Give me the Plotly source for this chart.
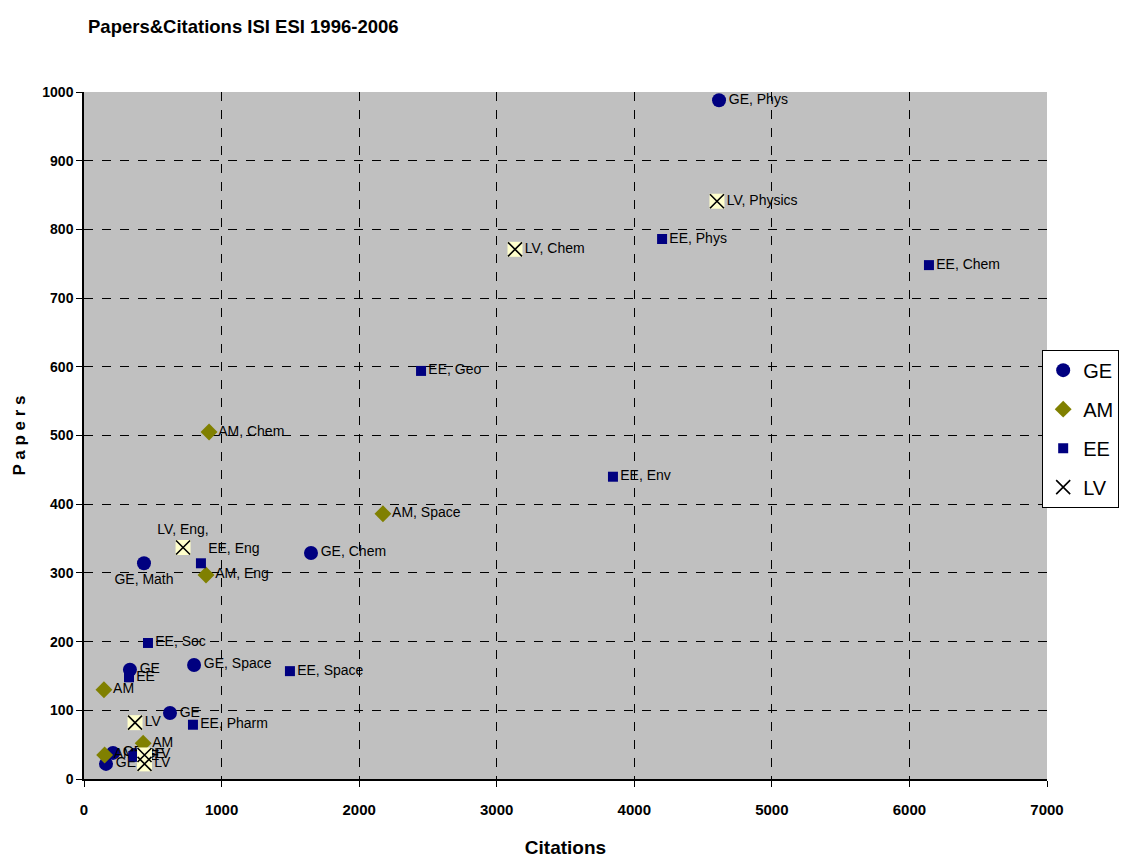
import plotly.graph_objects as go

# Citations (x) and papers (y) per group, with point labels
ge_cit = [4616, 1650, 436, 800, 334, 625, 211, 160, 370]
ge_pap = [988, 329, 314, 166, 159, 96, 38, 22, 35]
ge_lab = ["GE, Phys", "GE, Chem", "GE, Math", "GE, Space", "GE", "GE", "GE", "GE", "GE"]
ge_pos = ["middle right", "middle right", "bottom center", "middle right", "middle right",
          "middle right", "middle right", "middle right", "middle right"]

am_cit = [909, 2173, 887, 145, 150, 430]
am_pap = [505, 386, 297, 130, 35, 52]
am_lab = ["AM, Chem", "AM, Space", "AM, Eng", "AM", "AM", "AM"]

ee_cit = [6142, 4202, 2450, 3845, 850, 465, 1497, 327, 792, 360]
ee_pap = [748, 786, 594, 440, 314, 198, 157, 148, 79, 33]
ee_lab = ["EE, Chem", "EE, Phys", "EE, Geo", "EE, Env", "EE, Eng", "EE, Soc",
          "EE, Space", "EE", "EE, Pharm", "EE"]
ee_pos = ["middle right"] * 4 + ["top right"] + ["middle right"] * 5

lv_cit = [4601, 3133, 720, 371, 440, 440]
lv_pap = [841, 771, 337, 82, 35, 22]
lv_lab = ["LV, Physics", "LV, Chem", "LV, Eng,", "LV", "LV", "LV"]
lv_pos = ["middle right", "middle right", "top center", "middle right", "middle right", "middle right"]

x_ticks = [0, 1000, 2000, 3000, 4000, 5000, 6000, 7000]
y_ticks = [0, 100, 200, 300, 400, 500, 600, 700, 800, 900, 1000]

SANS = "Liberation Sans, Arial, sans-serif"
label_font = dict(family=SANS, size=14, color="black")

fig = go.Figure()

fig.add_trace(go.Scatter(
    x=ge_cit, y=ge_pap, text=ge_lab, textposition=ge_pos, mode="markers+text",
    name="GE", legendgroup="GE", marker=dict(symbol="circle", size=14, color="#000080"),
    textfont=label_font, cliponaxis=False))

fig.add_trace(go.Scatter(
    x=am_cit, y=am_pap, text=am_lab, textposition="middle right", mode="markers+text",
    name="AM", legendgroup="AM", marker=dict(symbol="diamond", size=13, color="#808000"),
    textfont=label_font, cliponaxis=False))

fig.add_trace(go.Scatter(
    x=ee_cit, y=ee_pap, text=ee_lab, textposition=ee_pos, mode="markers+text",
    name="EE", legendgroup="EE", marker=dict(symbol="square", size=10, color="#000080"),
    textfont=label_font, cliponaxis=False))

# LV: pale yellow square backing with a black cross on top
fig.add_trace(go.Scatter(
    x=lv_cit, y=lv_pap, mode="markers", legendgroup="LV", showlegend=False,
    marker=dict(symbol="square", size=15, color="#FFFFCC"), hoverinfo="skip",
    cliponaxis=False))
fig.add_trace(go.Scatter(
    x=lv_cit, y=lv_pap, text=lv_lab, textposition=lv_pos, mode="markers+text",
    name="LV", legendgroup="LV",
    marker=dict(symbol="x-thin-open", size=14, color="black", line=dict(color="black", width=1.6)),
    textfont=label_font, cliponaxis=False))

axis_common = dict(
    showline=True, linecolor="black", linewidth=1.5,
    ticks="outside", ticklen=6, tickcolor="black",
    showgrid=True, gridcolor="black", griddash="dash", gridwidth=1,
    zeroline=False, mirror=False,
)

fig.update_xaxes(
    range=[0, 7000], tickvals=x_ticks, ticktext=[str(v) for v in x_ticks],
    tickfont=dict(family=SANS, size=15, color="black", weight="bold"),
    ticklabelstandoff=10,
    title=dict(text="Citations", standoff=30,
               font=dict(family=SANS, size=19, color="black", weight="bold")),
    **axis_common)
fig.update_yaxes(
    range=[0, 1000], tickvals=y_ticks, ticktext=[str(v) for v in y_ticks],
    tickfont=dict(family=SANS, size=14, color="black", weight="bold"),
    title=dict(text="P a p e r s", standoff=12,
               font=dict(family=SANS, size=17, color="black", weight="bold")),
    **axis_common)

fig.update_layout(
    width=1121, height=858,
    margin=dict(l=84, r=74, t=92, b=79, autoexpand=False),
    paper_bgcolor="white", plot_bgcolor="#C0C0C0",
    title=dict(text="Papers&Citations ISI ESI 1996-2006", x=88 / 1121, xanchor="left",
               y=1 - 27 / 858, yanchor="middle",
               font=dict(family=SANS, size=18.5, color="black", weight="bold")),
    legend=dict(x=0.995, y=0.625, xanchor="left", yanchor="top",
                bgcolor="white", bordercolor="black", borderwidth=1,
                font=dict(family=SANS, size=20, color="black"),
                itemwidth=30, traceorder="grouped", tracegroupgap=10),
    showlegend=True,
)

fig.write_html("out.html")
